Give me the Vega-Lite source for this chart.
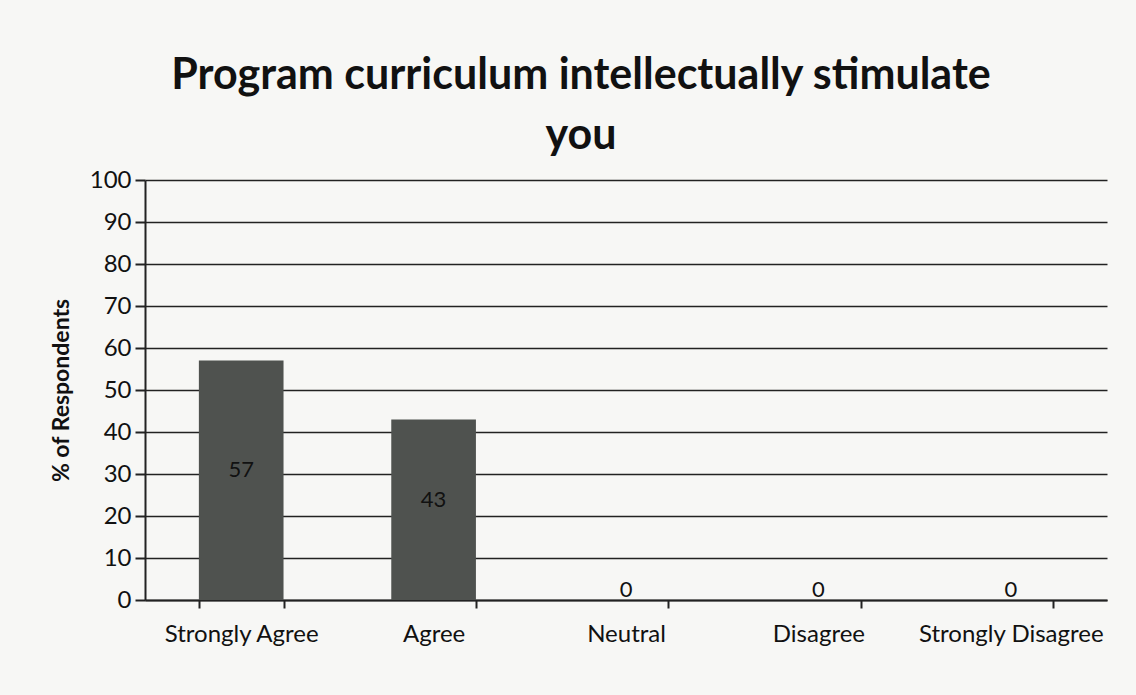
{
  "$schema": "https://vega.github.io/schema/vega-lite/v6.json",
  "autosize": "none",
  "width": 962,
  "height": 420,
  "padding": {"left": 145, "top": 180, "right": 29, "bottom": 95},
  "background": "#f7f7f5",
  "title": {
    "text": ["Program curriculum intellectually stimulate", "you"],
    "font": "Lato",
    "fontSize": 43,
    "fontWeight": "bold",
    "color": "#111111",
    "anchor": "middle",
    "dx": -45,
    "lineHeight": 60,
    "offset": 10
  },
  "data": {
    "values": [
      {"response": "Strongly Agree", "pct": 57},
      {"response": "Agree", "pct": 43},
      {"response": "Neutral", "pct": 0},
      {"response": "Disagree", "pct": 0},
      {"response": "Strongly Disagree", "pct": 0}
    ]
  },
  "encoding": {
    "x": {
      "field": "response",
      "type": "nominal",
      "sort": null,
      "scale": {"paddingInner": 0.56, "paddingOuter": 0.28},
      "axis": {
        "title": null,
        "labelAngle": 0,
        "labelFont": "Lato",
        "labelFontSize": 24,
        "labelLimit": 0,
        "labelColor": "#111111",
        "labelPadding": 14,
        "domainColor": "#222222",
        "domainWidth": 2,
        "tickColor": "#222222",
        "tickWidth": 2,
        "tickSize": 8,
        "tickBand": "extent"
      }
    }
  },
  "layer": [
    {
      "mark": {"type": "bar", "color": "#4f524f"},
      "encoding": {
        "y": {
          "field": "pct",
          "type": "quantitative",
          "scale": {"domain": [0, 100], "nice": false},
          "axis": {
            "title": "% of Respondents",
            "titleFont": "Lato",
            "titleFontSize": 23,
            "titleFontWeight": "bold",
            "titleColor": "#111111",
            "titlePadding": 16,
            "values": [0, 10, 20, 30, 40, 50, 60, 70, 80, 90, 100],
            "labelFont": "Lato",
            "labelFontSize": 24,
            "labelColor": "#111111",
            "labelPadding": 4,
            "grid": true,
            "gridColor": "#222222",
            "gridWidth": 1.5,
            "domainColor": "#222222",
            "domainWidth": 2,
            "tickColor": "#222222",
            "tickWidth": 2,
            "tickSize": 10
          }
        }
      }
    },
    {
      "transform": [{"calculate": "datum.pct / 2", "as": "mid"}],
      "mark": {"type": "text", "font": "Lato", "fontSize": 22, "color": "#111111", "baseline": "middle", "dy": -10},
      "encoding": {
        "y": {"field": "mid", "type": "quantitative"},
        "text": {"field": "pct", "type": "quantitative"}
      }
    }
  ],
  "config": {
    "view": {"stroke": null}
  }
}
